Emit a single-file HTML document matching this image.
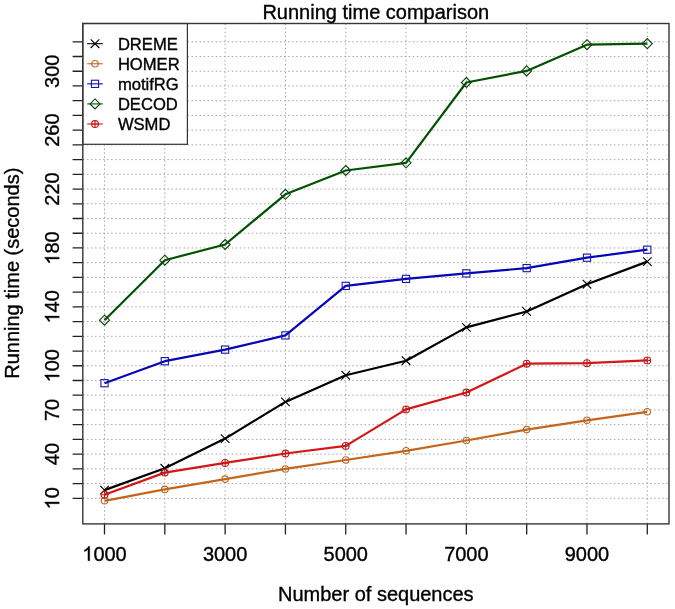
<!DOCTYPE html>
<html><head><meta charset="utf-8"><style>
html,body{margin:0;padding:0;background:#fff;}
svg{display:block;}
text{font-family:"Liberation Sans",sans-serif;fill:#000;stroke:#000;stroke-width:0.35px;}
svg{will-change:transform;}
</style></head><body>
<svg width="675" height="609" viewBox="0 0 675 609">
<rect width="675" height="609" fill="#fff"/>
<g stroke="#a6a6a6" stroke-width="1" stroke-dasharray="1.5 2.522" stroke-dashoffset="-0.15" fill="none">
<path d="M104.50,23.50V523.90"/>
<path d="M164.81,23.50V523.90"/>
<path d="M225.12,23.50V523.90"/>
<path d="M285.43,23.50V523.90"/>
<path d="M345.74,23.50V523.90"/>
<path d="M406.05,23.50V523.90"/>
<path d="M466.36,23.50V523.90"/>
<path d="M526.67,23.50V523.90"/>
<path d="M586.98,23.50V523.90"/>
<path d="M647.29,23.50V523.90"/>
<path d="M82.80,498.30H669.00"/>
<path d="M82.80,483.57H669.00"/>
<path d="M82.80,468.85H669.00"/>
<path d="M82.80,454.12H669.00"/>
<path d="M82.80,439.40H669.00"/>
<path d="M82.80,424.67H669.00"/>
<path d="M82.80,409.94H669.00"/>
<path d="M82.80,395.22H669.00"/>
<path d="M82.80,380.49H669.00"/>
<path d="M82.80,365.77H669.00"/>
<path d="M82.80,351.04H669.00"/>
<path d="M82.80,336.31H669.00"/>
<path d="M82.80,321.59H669.00"/>
<path d="M82.80,306.86H669.00"/>
<path d="M82.80,292.14H669.00"/>
<path d="M82.80,277.41H669.00"/>
<path d="M82.80,262.68H669.00"/>
<path d="M82.80,247.96H669.00"/>
<path d="M82.80,233.23H669.00"/>
<path d="M82.80,218.51H669.00"/>
<path d="M82.80,203.78H669.00"/>
<path d="M82.80,189.05H669.00"/>
<path d="M82.80,174.33H669.00"/>
<path d="M82.80,159.60H669.00"/>
<path d="M82.80,144.88H669.00"/>
<path d="M82.80,130.15H669.00"/>
<path d="M82.80,115.42H669.00"/>
<path d="M82.80,100.70H669.00"/>
<path d="M82.80,85.97H669.00"/>
<path d="M82.80,71.25H669.00"/>
<path d="M82.80,56.52H669.00"/>
<path d="M82.80,41.79H669.00"/>
</g>
<polyline points="104.50,490.10 164.81,468.30 225.12,438.60 285.43,401.90 345.74,375.30 406.05,360.70 466.36,327.40 526.67,311.50 586.98,284.20 647.29,261.60" stroke="#000000" stroke-width="2.2" fill="none" stroke-linejoin="round"/>
<path d="M100.20,485.80L108.80,494.40M100.20,494.40L108.80,485.80" stroke="#000000" stroke-width="1.1" fill="none"/>
<path d="M160.51,464.00L169.11,472.60M160.51,472.60L169.11,464.00" stroke="#000000" stroke-width="1.1" fill="none"/>
<path d="M220.82,434.30L229.42,442.90M220.82,442.90L229.42,434.30" stroke="#000000" stroke-width="1.1" fill="none"/>
<path d="M281.13,397.60L289.73,406.20M281.13,406.20L289.73,397.60" stroke="#000000" stroke-width="1.1" fill="none"/>
<path d="M341.44,371.00L350.04,379.60M341.44,379.60L350.04,371.00" stroke="#000000" stroke-width="1.1" fill="none"/>
<path d="M401.75,356.40L410.35,365.00M401.75,365.00L410.35,356.40" stroke="#000000" stroke-width="1.1" fill="none"/>
<path d="M462.06,323.10L470.66,331.70M462.06,331.70L470.66,323.10" stroke="#000000" stroke-width="1.1" fill="none"/>
<path d="M522.37,307.20L530.97,315.80M522.37,315.80L530.97,307.20" stroke="#000000" stroke-width="1.1" fill="none"/>
<path d="M582.68,279.90L591.28,288.50M582.68,288.50L591.28,279.90" stroke="#000000" stroke-width="1.1" fill="none"/>
<path d="M642.99,257.30L651.59,265.90M642.99,265.90L651.59,257.30" stroke="#000000" stroke-width="1.1" fill="none"/>
<polyline points="104.50,500.80 164.81,489.40 225.12,479.10 285.43,468.95 345.74,460.00 406.05,450.80 466.36,440.50 526.67,429.60 586.98,420.30 647.29,411.80" stroke="#c4661a" stroke-width="2.2" fill="none" stroke-linejoin="round"/>
<circle cx="104.50" cy="500.80" r="3.25" stroke="#b86a28" stroke-width="1.1" fill="none"/>
<circle cx="164.81" cy="489.40" r="3.25" stroke="#b86a28" stroke-width="1.1" fill="none"/>
<circle cx="225.12" cy="479.10" r="3.25" stroke="#b86a28" stroke-width="1.1" fill="none"/>
<circle cx="285.43" cy="468.95" r="3.25" stroke="#b86a28" stroke-width="1.1" fill="none"/>
<circle cx="345.74" cy="460.00" r="3.25" stroke="#b86a28" stroke-width="1.1" fill="none"/>
<circle cx="406.05" cy="450.80" r="3.25" stroke="#b86a28" stroke-width="1.1" fill="none"/>
<circle cx="466.36" cy="440.50" r="3.25" stroke="#b86a28" stroke-width="1.1" fill="none"/>
<circle cx="526.67" cy="429.60" r="3.25" stroke="#b86a28" stroke-width="1.1" fill="none"/>
<circle cx="586.98" cy="420.30" r="3.25" stroke="#b86a28" stroke-width="1.1" fill="none"/>
<circle cx="647.29" cy="411.80" r="3.25" stroke="#b86a28" stroke-width="1.1" fill="none"/>
<polyline points="104.50,383.20 164.81,361.20 225.12,349.60 285.43,335.40 345.74,285.90 406.05,278.90 466.36,273.40 526.67,268.10 586.98,257.70 647.29,249.70" stroke="#0606b8" stroke-width="2.2" fill="none" stroke-linejoin="round"/>
<rect x="100.90" y="379.60" width="7.20" height="7.20" stroke="#1616b0" stroke-width="1.1" fill="none"/>
<rect x="161.21" y="357.60" width="7.20" height="7.20" stroke="#1616b0" stroke-width="1.1" fill="none"/>
<rect x="221.52" y="346.00" width="7.20" height="7.20" stroke="#1616b0" stroke-width="1.1" fill="none"/>
<rect x="281.83" y="331.80" width="7.20" height="7.20" stroke="#1616b0" stroke-width="1.1" fill="none"/>
<rect x="342.14" y="282.30" width="7.20" height="7.20" stroke="#1616b0" stroke-width="1.1" fill="none"/>
<rect x="402.45" y="275.30" width="7.20" height="7.20" stroke="#1616b0" stroke-width="1.1" fill="none"/>
<rect x="462.76" y="269.80" width="7.20" height="7.20" stroke="#1616b0" stroke-width="1.1" fill="none"/>
<rect x="523.07" y="264.50" width="7.20" height="7.20" stroke="#1616b0" stroke-width="1.1" fill="none"/>
<rect x="583.38" y="254.10" width="7.20" height="7.20" stroke="#1616b0" stroke-width="1.1" fill="none"/>
<rect x="643.69" y="246.10" width="7.20" height="7.20" stroke="#1616b0" stroke-width="1.1" fill="none"/>
<polyline points="104.50,320.20 164.81,260.20 225.12,244.50 285.43,194.30 345.74,170.50 406.05,162.80 466.36,82.50 526.67,70.90 586.98,44.70 647.29,43.60" stroke="#005200" stroke-width="2.2" fill="none" stroke-linejoin="round"/>
<path d="M104.50,315.20L109.50,320.20L104.50,325.20L99.50,320.20Z" stroke="#0e400e" stroke-width="1.1" fill="none"/>
<path d="M164.81,255.20L169.81,260.20L164.81,265.20L159.81,260.20Z" stroke="#0e400e" stroke-width="1.1" fill="none"/>
<path d="M225.12,239.50L230.12,244.50L225.12,249.50L220.12,244.50Z" stroke="#0e400e" stroke-width="1.1" fill="none"/>
<path d="M285.43,189.30L290.43,194.30L285.43,199.30L280.43,194.30Z" stroke="#0e400e" stroke-width="1.1" fill="none"/>
<path d="M345.74,165.50L350.74,170.50L345.74,175.50L340.74,170.50Z" stroke="#0e400e" stroke-width="1.1" fill="none"/>
<path d="M406.05,157.80L411.05,162.80L406.05,167.80L401.05,162.80Z" stroke="#0e400e" stroke-width="1.1" fill="none"/>
<path d="M466.36,77.50L471.36,82.50L466.36,87.50L461.36,82.50Z" stroke="#0e400e" stroke-width="1.1" fill="none"/>
<path d="M526.67,65.90L531.67,70.90L526.67,75.90L521.67,70.90Z" stroke="#0e400e" stroke-width="1.1" fill="none"/>
<path d="M586.98,39.70L591.98,44.70L586.98,49.70L581.98,44.70Z" stroke="#0e400e" stroke-width="1.1" fill="none"/>
<path d="M647.29,38.60L652.29,43.60L647.29,48.60L642.29,43.60Z" stroke="#0e400e" stroke-width="1.1" fill="none"/>
<polyline points="104.50,494.80 164.81,472.60 225.12,462.90 285.43,453.50 345.74,445.90 406.05,409.40 466.36,392.50 526.67,363.70 586.98,363.20 647.29,360.40" stroke="#d41616" stroke-width="2.2" fill="none" stroke-linejoin="round"/>
<circle cx="104.50" cy="494.80" r="3.4" stroke="#c01a1a" stroke-width="1.1" fill="none"/><path d="M101.10,494.80H107.90M104.50,491.40V498.20" stroke="#c01a1a" stroke-width="1.1"/>
<circle cx="164.81" cy="472.60" r="3.4" stroke="#c01a1a" stroke-width="1.1" fill="none"/><path d="M161.41,472.60H168.21M164.81,469.20V476.00" stroke="#c01a1a" stroke-width="1.1"/>
<circle cx="225.12" cy="462.90" r="3.4" stroke="#c01a1a" stroke-width="1.1" fill="none"/><path d="M221.72,462.90H228.52M225.12,459.50V466.30" stroke="#c01a1a" stroke-width="1.1"/>
<circle cx="285.43" cy="453.50" r="3.4" stroke="#c01a1a" stroke-width="1.1" fill="none"/><path d="M282.03,453.50H288.83M285.43,450.10V456.90" stroke="#c01a1a" stroke-width="1.1"/>
<circle cx="345.74" cy="445.90" r="3.4" stroke="#c01a1a" stroke-width="1.1" fill="none"/><path d="M342.34,445.90H349.14M345.74,442.50V449.30" stroke="#c01a1a" stroke-width="1.1"/>
<circle cx="406.05" cy="409.40" r="3.4" stroke="#c01a1a" stroke-width="1.1" fill="none"/><path d="M402.65,409.40H409.45M406.05,406.00V412.80" stroke="#c01a1a" stroke-width="1.1"/>
<circle cx="466.36" cy="392.50" r="3.4" stroke="#c01a1a" stroke-width="1.1" fill="none"/><path d="M462.96,392.50H469.76M466.36,389.10V395.90" stroke="#c01a1a" stroke-width="1.1"/>
<circle cx="526.67" cy="363.70" r="3.4" stroke="#c01a1a" stroke-width="1.1" fill="none"/><path d="M523.27,363.70H530.07M526.67,360.30V367.10" stroke="#c01a1a" stroke-width="1.1"/>
<circle cx="586.98" cy="363.20" r="3.4" stroke="#c01a1a" stroke-width="1.1" fill="none"/><path d="M583.58,363.20H590.38M586.98,359.80V366.60" stroke="#c01a1a" stroke-width="1.1"/>
<circle cx="647.29" cy="360.40" r="3.4" stroke="#c01a1a" stroke-width="1.1" fill="none"/><path d="M643.89,360.40H650.69M647.29,357.00V363.80" stroke="#c01a1a" stroke-width="1.1"/>
<path d="M72.60,498.30H82.80M72.60,483.57H82.80M72.60,468.85H82.80M72.60,454.12H82.80M72.60,439.40H82.80M72.60,424.67H82.80M72.60,409.94H82.80M72.60,395.22H82.80M72.60,380.49H82.80M72.60,365.77H82.80M72.60,351.04H82.80M72.60,336.31H82.80M72.60,321.59H82.80M72.60,306.86H82.80M72.60,292.14H82.80M72.60,277.41H82.80M72.60,262.68H82.80M72.60,247.96H82.80M72.60,233.23H82.80M72.60,218.51H82.80M72.60,203.78H82.80M72.60,189.05H82.80M72.60,174.33H82.80M72.60,159.60H82.80M72.60,144.88H82.80M72.60,130.15H82.80M72.60,115.42H82.80M72.60,100.70H82.80M72.60,85.97H82.80M72.60,71.25H82.80M72.60,56.52H82.80M72.60,41.79H82.80M104.50,523.90V534.40M164.81,523.90V534.40M225.12,523.90V534.40M285.43,523.90V534.40M345.74,523.90V534.40M406.05,523.90V534.40M466.36,523.90V534.40M526.67,523.90V534.40M586.98,523.90V534.40M647.29,523.90V534.40" stroke="#222" stroke-width="1.3" fill="none"/>
<rect x="82.80" y="23.50" width="104.60" height="120.80" fill="#fff" stroke="#333" stroke-width="1.2"/>
<path d="M87.2,43.70H102.8" stroke="#000000" stroke-width="1.1"/>
<path d="M90.70,39.40L99.30,48.00M90.70,48.00L99.30,39.40" stroke="#000000" stroke-width="1.1" fill="none"/>
<text x="117.9" y="49.70" font-size="16.6">DREME</text>
<path d="M87.2,63.77H102.8" stroke="#c4661a" stroke-width="1.1"/>
<circle cx="95.00" cy="63.77" r="3.25" stroke="#b86a28" stroke-width="1.1" fill="none"/>
<text x="117.9" y="69.77" font-size="16.6">HOMER</text>
<path d="M87.2,83.84H102.8" stroke="#0606b8" stroke-width="1.1"/>
<rect x="91.40" y="80.24" width="7.20" height="7.20" stroke="#1616b0" stroke-width="1.1" fill="none"/>
<text x="117.9" y="89.84" font-size="16.6">motifRG</text>
<path d="M87.2,103.91H102.8" stroke="#005200" stroke-width="1.1"/>
<path d="M95.00,98.91L100.00,103.91L95.00,108.91L90.00,103.91Z" stroke="#0e400e" stroke-width="1.1" fill="none"/>
<text x="117.9" y="109.91" font-size="16.6">DECOD</text>
<path d="M87.2,123.98H102.8" stroke="#d41616" stroke-width="1.1"/>
<circle cx="95.00" cy="123.98" r="3.4" stroke="#c01a1a" stroke-width="1.1" fill="none"/><path d="M91.60,123.98H98.40M95.00,120.58V127.38" stroke="#c01a1a" stroke-width="1.1"/>
<text x="117.9" y="129.98" font-size="16.6">WSMD</text>
<rect x="82.80" y="23.50" width="586.20" height="500.40" fill="none" stroke="#363636" stroke-width="1.4"/>
<text x="375.8" y="19.2" font-size="20" text-anchor="middle">Running time comparison</text>
<text x="375.8" y="600.7" font-size="20" text-anchor="middle">Number of sequences</text>
<g transform="translate(104.50,560.7)"><path transform="translate(-22.246,0) scale(0.009766,-0.009766)" d="M763,0L583,0L583,1147Q518,1085 412.5,1023Q307,961 223,930L223,1104Q374,1175 487,1276Q600,1377 647,1472L763,1472Z" fill="#000" stroke="#000" stroke-width="35.84"/><text x="-11.123" y="0" font-size="20">0</text><text x="0.000" y="0" font-size="20">0</text><text x="11.123" y="0" font-size="20">0</text></g>
<g transform="translate(225.12,560.7)"><text x="-22.246" y="0" font-size="20">3</text><text x="-11.123" y="0" font-size="20">0</text><text x="0.000" y="0" font-size="20">0</text><text x="11.123" y="0" font-size="20">0</text></g>
<g transform="translate(345.74,560.7)"><text x="-22.246" y="0" font-size="20">5</text><text x="-11.123" y="0" font-size="20">0</text><text x="0.000" y="0" font-size="20">0</text><text x="11.123" y="0" font-size="20">0</text></g>
<g transform="translate(466.36,560.7)"><text x="-22.246" y="0" font-size="20">7</text><text x="-11.123" y="0" font-size="20">0</text><text x="0.000" y="0" font-size="20">0</text><text x="11.123" y="0" font-size="20">0</text></g>
<g transform="translate(586.98,560.7)"><text x="-22.246" y="0" font-size="20">9</text><text x="-11.123" y="0" font-size="20">0</text><text x="0.000" y="0" font-size="20">0</text><text x="11.123" y="0" font-size="20">0</text></g>
<g transform="translate(59.2,498.30) rotate(-90)"><path transform="translate(-11.123,0) scale(0.009766,-0.009766)" d="M763,0L583,0L583,1147Q518,1085 412.5,1023Q307,961 223,930L223,1104Q374,1175 487,1276Q600,1377 647,1472L763,1472Z" fill="#000" stroke="#000" stroke-width="35.84"/><text x="0.000" y="0" font-size="20">0</text></g>
<g transform="translate(59.2,454.12) rotate(-90)"><text x="-11.123" y="0" font-size="20">4</text><text x="0.000" y="0" font-size="20">0</text></g>
<g transform="translate(59.2,409.94) rotate(-90)"><text x="-11.123" y="0" font-size="20">7</text><text x="0.000" y="0" font-size="20">0</text></g>
<g transform="translate(59.2,365.77) rotate(-90)"><path transform="translate(-16.685,0) scale(0.009766,-0.009766)" d="M763,0L583,0L583,1147Q518,1085 412.5,1023Q307,961 223,930L223,1104Q374,1175 487,1276Q600,1377 647,1472L763,1472Z" fill="#000" stroke="#000" stroke-width="35.84"/><text x="-5.562" y="0" font-size="20">0</text><text x="5.562" y="0" font-size="20">0</text></g>
<g transform="translate(59.2,306.86) rotate(-90)"><path transform="translate(-16.685,0) scale(0.009766,-0.009766)" d="M763,0L583,0L583,1147Q518,1085 412.5,1023Q307,961 223,930L223,1104Q374,1175 487,1276Q600,1377 647,1472L763,1472Z" fill="#000" stroke="#000" stroke-width="35.84"/><text x="-5.562" y="0" font-size="20">4</text><text x="5.562" y="0" font-size="20">0</text></g>
<g transform="translate(59.2,247.96) rotate(-90)"><path transform="translate(-16.685,0) scale(0.009766,-0.009766)" d="M763,0L583,0L583,1147Q518,1085 412.5,1023Q307,961 223,930L223,1104Q374,1175 487,1276Q600,1377 647,1472L763,1472Z" fill="#000" stroke="#000" stroke-width="35.84"/><text x="-5.562" y="0" font-size="20">8</text><text x="5.562" y="0" font-size="20">0</text></g>
<g transform="translate(59.2,189.05) rotate(-90)"><text x="-16.685" y="0" font-size="20">2</text><text x="-5.562" y="0" font-size="20">2</text><text x="5.562" y="0" font-size="20">0</text></g>
<g transform="translate(59.2,130.15) rotate(-90)"><text x="-16.685" y="0" font-size="20">2</text><text x="-5.562" y="0" font-size="20">6</text><text x="5.562" y="0" font-size="20">0</text></g>
<g transform="translate(59.2,71.25) rotate(-90)"><text x="-16.685" y="0" font-size="20">3</text><text x="-5.562" y="0" font-size="20">0</text><text x="5.562" y="0" font-size="20">0</text></g>
<text transform="translate(18.9,273.2) rotate(-90)" x="0" y="0" font-size="20" text-anchor="middle">Running time (seconds)</text>
</svg>
</body></html>
